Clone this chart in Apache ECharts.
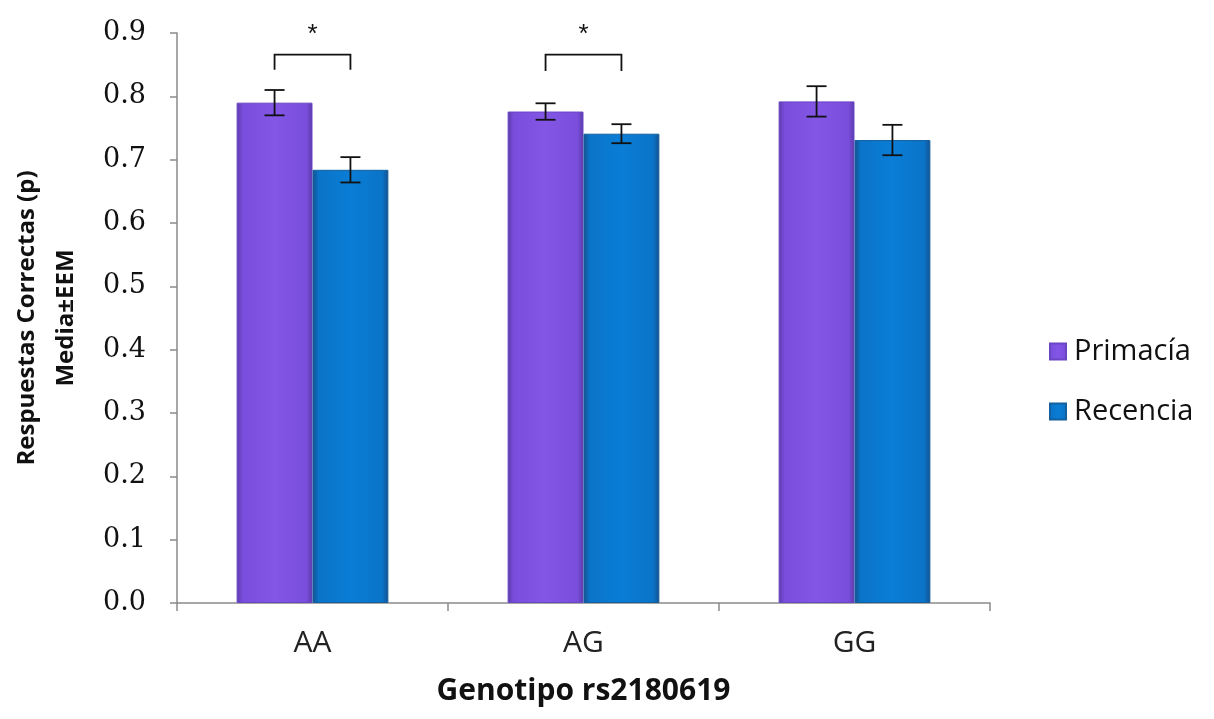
<!DOCTYPE html>
<html>
<head>
<meta charset="utf-8">
<script src="https://cdn.jsdelivr.net/npm/echarts@6/dist/echarts.min.js"></script>
<style>
  html, body { margin: 0; padding: 0; background: #fff; }
  #chart { width: 1214px; height: 719px; }
</style>
</head>
<body>
<div id="chart"></div>
<script>
// Genotype groups and series (mean proportion of correct answers ± SEM)
const categories = ['AA', 'AG', 'GG'];
const seriesNames = ['Primacía', 'Recencia'];
const primaciaMean = [0.790, 0.776, 0.792];
const primaciaSem  = [0.020, 0.013, 0.024];
const recenciaMean = [0.684, 0.741, 0.731];
const recenciaSem  = [0.020, 0.015, 0.024];
// Significance brackets: [category index, bracket top, bracket end, label]
const sigCategories = [0, 1];
const sigTop = [0.866, 0.866];
const sigEnd = [0.842, 0.840];
const sigLabel = ['*', '*'];
const yTicks = [0, 0.1, 0.2, 0.3, 0.4, 0.5, 0.6, 0.7, 0.8, 0.9];

const BAR_FRAC = 0.28;   // bar width as a share of the category band

function barGradient(edge, mid, light) {
  return new echarts.graphic.LinearGradient(0, 0, 1, 0, [
    { offset: 0, color: edge },
    { offset: 0.08, color: mid },
    { offset: 0.5, color: light },
    { offset: 0.92, color: mid },
    { offset: 1, color: edge }
  ]);
}

function errorData(means, sems) {
  return means.map((m, i) => [i, m - sems[i], m + sems[i]]);
}

// Draws an error whisker centred on one of the two bars in a group
function errorRenderer(side) {
  return function (params, api) {
    const band = api.size([1, 0])[0];
    const c = api.value(0);
    const lo = api.coord([c, api.value(1)]);
    const hi = api.coord([c, api.value(2)]);
    const x = lo[0] + side * band * BAR_FRAC / 2;
    const cap = 10;
    const style = { stroke: '#111', lineWidth: 1.8 };
    return {
      type: 'group',
      children: [
        { type: 'line', shape: { x1: x, y1: lo[1], x2: x, y2: hi[1] }, style },
        { type: 'line', shape: { x1: x - cap, y1: hi[1], x2: x + cap, y2: hi[1] }, style },
        { type: 'line', shape: { x1: x - cap, y1: lo[1], x2: x + cap, y2: lo[1] }, style }
      ]
    };
  };
}

const sigData = sigCategories.map((c, i) => [c, sigTop[i], sigEnd[i], sigLabel[i]]);

const chart = echarts.init(document.getElementById('chart'), null, { renderer: 'canvas' });
chart.setOption({
  animation: false,
  backgroundColor: '#ffffff',
  grid: { left: 177, right: 224, top: 33, bottom: 116, containLabel: false, outerBoundsMode: 'none' },
  legend: {
    orient: 'vertical',
    left: 1044,
    top: 332,
    itemGap: 31,
    itemWidth: 16,
    itemHeight: 16,
    icon: 'rect',
    data: seriesNames,
    textStyle: { fontFamily: 'Open Sans', fontSize: 29, color: '#111', padding: [0, 0, 0, 3] }
  },
  xAxis: {
    type: 'category',
    data: categories,
    axisLine: { lineStyle: { color: '#8a8a8a', width: 1.5 } },
    axisTick: { show: true, length: 8, lineStyle: { color: '#8a8a8a', width: 1.5 } },
    axisLabel: { margin: 25, fontFamily: 'Open Sans', fontSize: 30, color: '#222' },
    name: 'Genotipo rs2180619',
    nameLocation: 'middle',
    nameGap: 73,
    nameTextStyle: { fontFamily: 'Open Sans', fontWeight: 'bold', fontSize: 30, color: '#111' }
  },
  yAxis: {
    type: 'value',
    min: 0,
    max: 0.9,
    interval: 0.1,
    splitLine: { show: false },
    axisLine: { show: true, lineStyle: { color: '#8a8a8a', width: 1.5 } },
    axisTick: { show: true, inside: false, length: 7, lineStyle: { color: '#8a8a8a', width: 1.5 } },
    axisLabel: {
      margin: 31,
      fontFamily: 'DejaVu Serif',
      fontSize: 27,
      color: '#111',
      formatter: v => yTicks.find(t => Math.abs(t - v) < 1e-9).toFixed(1)
    },
    name: 'Respuestas Correctas (p)\nMedia±EEM',
    nameLocation: 'middle',
    nameRotate: 90,
    nameGap: 91,
    nameTextStyle: { fontFamily: 'Open Sans', fontWeight: 'bold', fontSize: 24, color: '#111', lineHeight: 39 }
  },
  series: [
    {
      name: seriesNames[0],
      type: 'bar',
      data: primaciaMean,
      barWidth: (BAR_FRAC * 100) + '%',
      barGap: '0%',
      itemStyle: { color: barGradient('#5a3aa8', '#7a4edc', '#8356e6'), borderColor: '#6a46c4', borderWidth: 1 }
    },
    {
      name: seriesNames[1],
      type: 'bar',
      data: recenciaMean,
      barWidth: (BAR_FRAC * 100) + '%',
      barGap: '0%',
      itemStyle: { color: barGradient('#164f8c', '#0a74c8', '#0a7dd6'), borderColor: '#14609e', borderWidth: 1 }
    },
    {
      type: 'custom',
      name: 'errPrim',
      renderItem: errorRenderer(-1),
      data: errorData(primaciaMean, primaciaSem),
      encode: { x: 0, y: [1, 2] },
      z: 5,
      silent: true
    },
    {
      type: 'custom',
      name: 'errRec',
      renderItem: errorRenderer(1),
      data: errorData(recenciaMean, recenciaSem),
      encode: { x: 0, y: [1, 2] },
      z: 5,
      silent: true
    },
    {
      type: 'custom',
      name: 'sig',
      renderItem: function (params, api) {
        const band = api.size([1, 0])[0];
        const c = api.value(0);
        const top = api.coord([c, api.value(1)]);
        const end = api.coord([c, api.value(2)]);
        const off = band * BAR_FRAC / 2;
        const xl = top[0] - off, xr = top[0] + off;
        const style = { stroke: '#111', lineWidth: 1.8, fill: null };
        return {
          type: 'group',
          children: [
            { type: 'polyline', shape: { points: [[xl, end[1]], [xl, top[1]], [xr, top[1]], [xr, end[1]]] }, style },
            { type: 'text', x: top[0], y: top[1] - 20, style: {
              text: sigData[params.dataIndex][3], fontFamily: 'Liberation Sans', fontSize: 26,
              fill: '#111', align: 'center', verticalAlign: 'middle' } }
          ]
        };
      },
      data: sigData.map(d => [d[0], d[1], d[2]]),
      encode: { x: 0, y: [1, 2] },
      z: 5,
      silent: true
    }
  ]
});
</script>
</body>
</html>
